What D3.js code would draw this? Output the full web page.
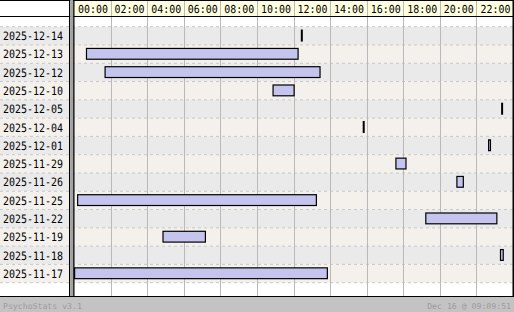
<!DOCTYPE html>
<html>
<head>
<meta charset="utf-8">
<script src="https://cdn.jsdelivr.net/npm/d3@7.9.0/dist/d3.min.js"></script>
<style>
  html, body { margin: 0; padding: 0; background: #fff; }
  svg { display: block; }
  text { font-family: "DejaVu Sans Mono", "Liberation Mono", monospace; text-rendering: geometricPrecision; }
</style>
</head>
<body>
<svg id="chart" width="514" height="312"></svg>
<script>
// one row per day, session start / end as HH:MM
const days = ['2025-12-14', '2025-12-13', '2025-12-12', '2025-12-10', '2025-12-05', '2025-12-04', '2025-12-01',
  '2025-11-29', '2025-11-26', '2025-11-25', '2025-11-22', '2025-11-19', '2025-11-18', '2025-11-17'];
const starts = ['12:24', '00:39', '01:40', '10:51', '23:21', '15:47', '22:38',
  '17:34', '20:54', '00:10', '19:12', '04:50', '23:17', '00:00'];
const ends = ['12:25', '12:17', '13:29', '12:04', '23:22', '15:48', '22:48',
  '18:11', '21:19', '13:17', '23:09', '07:13', '23:30', '13:53'];
const hourLabels = ['00:00', '02:00', '04:00', '06:00', '08:00', '10:00', '12:00',
  '14:00', '16:00', '18:00', '20:00', '22:00'];
const footerLeft = 'PsychoStats v3.1';
const footerRight = 'Dec 16 @ 09:09:51';

const W = 514, H = 312;
const left = 74, right = 513, headerH = 17, bottom = 296;
const rowsTop = 26.7, rowsBottom = 282.7;

const toMin = (s) => { let [h, m] = s.split(':').map(Number); return h * 60 + m; };

let svg = d3.select('#chart');
let x = d3.scaleLinear().domain([0, 24 * 60]).range([left, right]);
let y = d3.scaleBand().domain(days).range([rowsTop, rowsBottom]);
let rowColor = (i) => i % 2 === 0 ? '#eaeaea' : '#f4f1ec';

// narrow fixed-width text, like the old bitmap font
function fixedText(sel, charW) {
  sel.attr('textLength', (d) => d.length * charW).attr('lengthAdjust', 'spacingAndGlyphs');
}

// white page body
svg.append('rect').attr('x', 0).attr('y', 0).attr('width', W).attr('height', bottom).attr('fill', '#fff');

// row backgrounds, across label column too
svg.append('g').selectAll('rect')
  .data(days)
  .join('rect')
  .attr('x', 0)
  .attr('y', (d) => y(d))
  .attr('width', right)
  .attr('height', y.bandwidth())
  .attr('fill', (d, i) => rowColor(i));

// dashed row separators
let seps = d3.range(days.length + 1).map((i) => rowsTop + i * y.step());
svg.append('g').selectAll('line')
  .data(seps)
  .join('line')
  .attr('x1', 0).attr('x2', right)
  .attr('y1', (d) => d).attr('y2', (d) => d)
  .attr('stroke', '#c8c8c8')
  .attr('stroke-dasharray', '3,3');

// header
svg.append('rect').attr('x', left).attr('y', 0).attr('width', right - left).attr('height', headerH)
  .attr('fill', '#ffffe0');

let hours = hourLabels.map(toMin);

// vertical grid lines
svg.append('g').selectAll('line')
  .data(hours.slice(1))
  .join('line')
  .attr('x1', (d) => Math.round(x(d)) + 0.5).attr('x2', (d) => Math.round(x(d)) + 0.5)
  .attr('y1', 0).attr('y2', bottom)
  .attr('stroke', '#b9b9b9')
  .attr('stroke-width', 1);

svg.append('g').selectAll('text')
  .data(hourLabels)
  .join('text')
  .attr('x', (d) => x(toMin(d)) + 4)
  .attr('y', 12.5)
  .attr('font-size', 11)
  .attr('fill', '#000')
  .text((d) => d)
  .call(fixedText, 6);

// header borders
svg.append('line').attr('x1', 0).attr('x2', W).attr('y1', 0.5).attr('y2', 0.5).attr('stroke', '#000');
svg.append('line').attr('x1', 0).attr('x2', W).attr('y1', 16.5).attr('y2', 16.5).attr('stroke', '#000');

// day labels
svg.append('g').selectAll('text')
  .data(days)
  .join('text')
  .attr('x', 3)
  .attr('y', (d) => y(d) + y.bandwidth() / 2 + 4.3)
  .attr('font-size', 11.5)
  .attr('fill', '#000')
  .text((d) => d)
  .call(fixedText, 6);

// session bars
let barH = 10.8;
svg.append('g').selectAll('rect')
  .data(days)
  .join('rect')
  .attr('x', (d, i) => x(toMin(starts[i])) + 0.6)
  .attr('y', (d) => y(d) + (y.bandwidth() - barH) / 2 - 0.3)
  .attr('width', (d, i) => Math.max(0.8, x(toMin(ends[i])) - x(toMin(starts[i])) - 1.2))
  .attr('height', barH)
  .attr('fill', '#c4c4ee')
  .attr('stroke', '#000')
  .attr('stroke-width', 1.2);

// label column divider
svg.append('rect').attr('x', 69).attr('y', 0).attr('width', 1.2).attr('height', bottom).attr('fill', '#000');
svg.append('rect').attr('x', 70.2).attr('y', 0).attr('width', 3).attr('height', bottom).attr('fill', '#a3a3a3');
svg.append('rect').attr('x', 73.2).attr('y', 0).attr('width', 1.3).attr('height', bottom).attr('fill', '#000');
// right border
svg.append('rect').attr('x', 512.5).attr('y', 0).attr('width', 1.5).attr('height', bottom).attr('fill', '#000');

// footer
svg.append('rect').attr('x', 0).attr('y', bottom).attr('width', W).attr('height', H - bottom).attr('fill', '#c3c3c3');
svg.append('line').attr('x1', 0).attr('x2', W).attr('y1', bottom + 0.5).attr('y2', bottom + 0.5).attr('stroke', '#000');
svg.append('text').attr('x', 3).attr('y', 308.5).attr('font-size', 8.2).attr('fill', '#9c9c9c')
  .text(footerLeft);
svg.append('text').attr('x', 511).attr('y', 308.5).attr('font-size', 8.2).attr('fill', '#9c9c9c')
  .attr('text-anchor', 'end').text(footerRight);
</script>
</body>
</html>
